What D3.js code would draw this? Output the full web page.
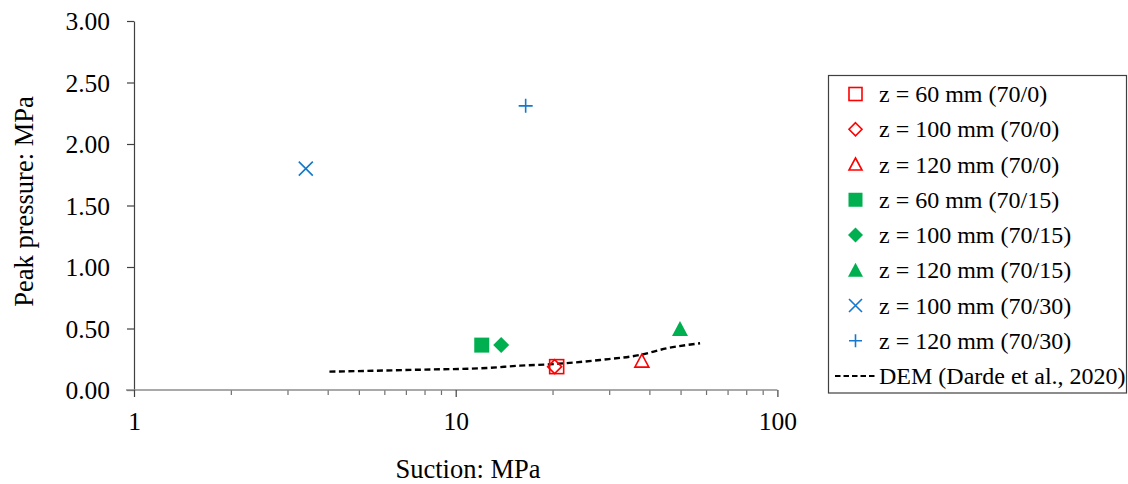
<!DOCTYPE html>
<html><head><meta charset="utf-8">
<script src="https://cdn.jsdelivr.net/npm/d3@7"></script>
<style>
body{margin:0;background:#fff;}
svg{display:block;font-family:"Liberation Serif","Times New Roman",serif;}
</style></head>
<body>
<svg id="chart" width="1128" height="484"></svg>
<script>
// ---- data ----
const seriesNames = ["z = 60 mm (70/0)","z = 100 mm (70/0)","z = 120 mm (70/0)","z = 60 mm (70/15)","z = 100 mm (70/15)","z = 120 mm (70/15)","z = 100 mm (70/30)","z = 120 mm (70/30)"];
const suction = [20.6, 20.3, 37.9, 12.05, 13.85, 49.8, 3.42, 16.5];
const peakPressure = [0.19, 0.19, 0.235, 0.365, 0.365, 0.495, 1.80, 2.31];
const markerShapes = ["squareOpen","diamondOpen","triangleOpen","square","diamond","triangle","cross","plus"];
const markerColors = ["#ff0000","#ff0000","#ff0000","#00b050","#00b050","#00b050","#1478cc","#1478cc"];
const demName = "DEM (Darde et al., 2020)";
const demSuction = [4.05, 7.74, 12.5, 15.85, 19.6, 28.1, 37.4, 45.3, 57.5];
const demPressure = [0.149, 0.165, 0.179, 0.198, 0.209, 0.244, 0.285, 0.339, 0.38];
const xMajorTicks = [1, 10, 100];
const xMinorTicks = [2,3,4,5,6,7,8,9,20,30,40,50,60,70,80,90];
const yTicks = [0, 0.5, 1, 1.5, 2, 2.5, 3];
const xTitle = "Suction: MPa";
const yTitle = "Peak pressure: MPa";

// ---- layout ----
const svg = d3.select("#chart");
const x = d3.scaleLog().domain([1,100]).range([134,777.4]);
const y = d3.scaleLinear().domain([0,3]).range([390,21]);

// y axis
const gy = svg.append("g").attr("transform","translate(134,0)")
  .call(d3.axisLeft(y).tickValues(yTicks).tickSize(7).tickSizeOuter(0).tickFormat(d=>d.toFixed(2)));
gy.select(".domain").attr("stroke","#404040").attr("stroke-width",1.2);
gy.selectAll(".tick line").attr("stroke","#404040").attr("stroke-width",1.2);
gy.selectAll(".tick text").attr("x",-24).attr("dy","0.34em").attr("fill","#000")
  .style("font-size","25.5px").style("font-family","'Liberation Serif',serif");

// x axis minor ticks
const gxm = svg.append("g").attr("transform","translate(0,390)")
  .call(d3.axisBottom(x).tickValues(xMinorTicks).tickSize(5).tickSizeOuter(0).tickFormat(""));
gxm.select(".domain").remove();
gxm.selectAll(".tick line").attr("stroke","#6f6f6f").attr("stroke-width",1.2);

// x axis major
const gx = svg.append("g").attr("transform","translate(0,390)")
  .call(d3.axisBottom(x).tickValues(xMajorTicks).tickSize(7).tickSizeOuter(0).tickFormat(d3.format("d")));
gx.select(".domain").attr("stroke","#8c8c8c").attr("stroke-width",1.4)
  .attr("d", `M126,0H${x(100)}`);
gx.selectAll(".tick line").attr("stroke","#404040").attr("stroke-width",1.2);
gx.selectAll(".tick text").attr("y",40).attr("dy",0).attr("fill","#000")
  .style("font-size","25.5px").style("font-family","'Liberation Serif',serif");

// titles
svg.append("text").attr("x",468).attr("y",478).attr("text-anchor","middle")
  .style("font-size","26.5px").text(xTitle);
svg.append("text").attr("transform","translate(33,201.5) rotate(-90)").attr("text-anchor","middle")
  .style("font-size","26.5px").text(yTitle);

// DEM line
const line = d3.line().x(d=>x(d[0])).y(d=>y(d[1])).curve(d3.curveMonotoneX);
svg.append("path").datum(demSuction.map((s,i)=>[s,demPressure[i]]))
  .attr("d",line).attr("fill","none").attr("stroke","#000").attr("stroke-width",2.4)
  .attr("stroke-dasharray","6,3.5");

// markers
function drawMarker(g, shape, color, cx, cy, s){
  const h = s/2;
  switch(shape){
    case "squareOpen":
      g.append("rect").attr("x",cx-h).attr("y",cy-h).attr("width",s).attr("height",s)
        .attr("fill","none").attr("stroke",color).attr("stroke-width",1.6); break;
    case "square":
      g.append("rect").attr("x",cx-h-0.5).attr("y",cy-h-0.5).attr("width",s+1).attr("height",s+1)
        .attr("fill",color); break;
    case "diamondOpen":
      g.append("path").attr("d",`M${cx},${cy-h}L${cx+h},${cy}L${cx},${cy+h}L${cx-h},${cy}Z`)
        .attr("fill","none").attr("stroke",color).attr("stroke-width",1.6); break;
    case "diamond":
      g.append("path").attr("d",`M${cx},${cy-h-1}L${cx+h+1},${cy}L${cx},${cy+h+1}L${cx-h-1},${cy}Z`)
        .attr("fill",color); break;
    case "triangleOpen":
      g.append("path").attr("d",`M${cx},${cy-h}L${cx+h},${cy+h-1}L${cx-h},${cy+h-1}Z`)
        .attr("fill","none").attr("stroke",color).attr("stroke-width",1.6); break;
    case "triangle":
      g.append("path").attr("d",`M${cx},${cy-h-1}L${cx+h+1},${cy+h}L${cx-h-1},${cy+h}Z`)
        .attr("fill",color); break;
    case "cross":
      g.append("path").attr("d",`M${cx-h},${cy-h}L${cx+h},${cy+h}M${cx-h},${cy+h}L${cx+h},${cy-h}`)
        .attr("stroke",color).attr("stroke-width",1.6); break;
    case "plus":
      g.append("path").attr("d",`M${cx-h},${cy}L${cx+h},${cy}M${cx},${cy-h}L${cx},${cy+h}`)
        .attr("stroke",color).attr("stroke-width",1.6); break;
  }
}
const pts = svg.append("g");
const drawOrder = [3,4,5,0,1,2,6,7];
drawOrder.forEach(i=>{
  drawMarker(pts, markerShapes[i], markerColors[i], x(suction[i]), y(peakPressure[i]), 14);
});

// legend
const lg = svg.append("g");
lg.append("rect").attr("x",828.5).attr("y",75.5).attr("width",298).attr("height",317.5)
  .attr("fill","#fff").attr("stroke","#404040").attr("stroke-width",1.2);
const rowY = i => 94 + i*35.25;
seriesNames.forEach((name,i)=>{
  drawMarker(lg, markerShapes[i], markerColors[i], 855.5, rowY(i), 13);
  lg.append("text").attr("x",879).attr("y",rowY(i)+8).style("font-size","24px").text(name);
});
lg.append("line").attr("x1",835).attr("x2",877).attr("y1",rowY(8)).attr("y2",rowY(8))
  .attr("stroke","#000").attr("stroke-width",2.2).attr("stroke-dasharray","5.5,3");
lg.append("text").attr("x",879).attr("y",rowY(8)+8).style("font-size","24px").text(demName);
</script>
</body></html>
